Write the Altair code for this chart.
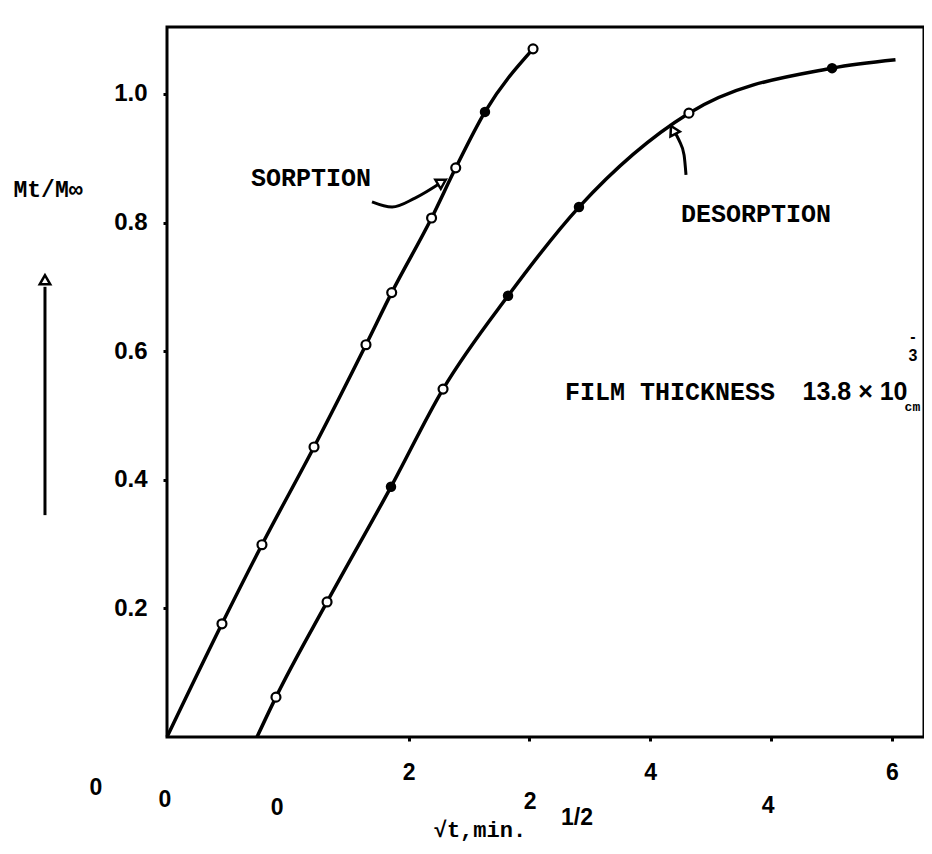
import altair as alt
import pandas as pd

# ---- data ----
sorp_x = [0.0, 0.455, 0.786, 1.217, 1.647, 1.86, 2.19, 2.39, 2.632, 3.03]
sorp_y = [0.0, 0.176, 0.299, 0.451, 0.610, 0.691, 0.807, 0.885, 0.972, 1.070]
sorp_marker = ["none", "open", "open", "open", "open", "open", "open", "open", "filled", "open"]

desorp_x = [0.745, 0.902, 1.325, 1.854, 2.285, 2.823, 3.41, 4.32, 5.505, 6.03]
desorp_y = [0.0, 0.062, 0.210, 0.389, 0.541, 0.686, 0.824, 0.970, 1.040, 1.053]
desorp_marker = ["none", "open", "open", "filled", "open", "filled", "filled", "open", "filled", "none"]

x_ticks = [2, 3, 4, 5, 6]
y_ticks = [0.2, 0.4, 0.6, 0.8, 1.0]

# annotation texts (typewriter)
mono_text = ["SORPTION", "DESORPTION", "FILM THICKNESS", "Mt/M\u221e", "\u221at,min.", "cm"]
mono_x = [1.192, 4.876, 4.164, -0.985, 2.59, 6.17]
mono_y = [0.869, 0.813, 0.537, 0.851, -0.145, 0.513]
mono_size = [25, 25, 25, 23, 22, 13]

# annotation texts (sans numerals)
sans_text = ["13.8 \u00d7 10", "-", "3", "0", "0", "0", "2", "4", "1/2"]
sans_x = [5.695, 6.175, 6.175, -0.588, -0.017, 0.911, 3.005, 4.975, 3.394]
sans_y = [0.537, 0.622, 0.593, -0.079, -0.098, -0.110, -0.101, -0.107, -0.126]
sans_size = [25, 16, 16, 23, 23, 23, 23, 23, 23]

# hand-drawn pointer arrows
arrow_id = ["s", "s", "s", "s", "d", "d", "d", "d", "v", "v"]
arrow_x = [1.697, 1.863, 2.053, 2.276, 4.296, 4.28, 4.238, 4.189, -1.01, -1.01]
arrow_y = [0.832, 0.824, 0.838, 0.863, 0.874, 0.905, 0.928, 0.944, 0.345, 0.70]
head_x = [2.276, 4.189, -1.01]
head_y = [0.863, 0.944, 0.711]
head_angle = [59, 333, 0]

# ---- tables ----
curves = pd.DataFrame({
    "x": sorp_x + desorp_x,
    "y": sorp_y + desorp_y,
    "marker": sorp_marker + desorp_marker,
    "series": ["Sorption"] * len(sorp_x) + ["Desorption"] * len(desorp_x),
})
mono_df = pd.DataFrame({"x": mono_x, "y": mono_y, "t": mono_text, "s": mono_size})
sans_df = pd.DataFrame({"x": sans_x, "y": sans_y, "t": sans_text, "s": sans_size})
arrows = pd.DataFrame({"x": arrow_x, "y": arrow_y, "id": arrow_id, "i": list(range(len(arrow_x)))})
heads = pd.DataFrame({"x": head_x, "y": head_y, "a": head_angle})

XS = alt.Scale(domain=[0, 6.266], nice=False, zero=False)
YS = alt.Scale(domain=[0, 1.104], nice=False, zero=False)

X = alt.X("x:Q", scale=XS, axis=alt.Axis(
    values=x_ticks, title=None, grid=False, domain=False, format="d",
    labelExpr="datum.value % 2 == 0 ? datum.label : ''",
    tickSize=4, tickWidth=3, tickColor="black",
    labelFont="Liberation Sans", labelFontWeight="bold", labelFontSize=23,
    labelColor="black", labelPadding=20, labelFlush=False))
Y = alt.Y("y:Q", scale=YS, axis=alt.Axis(
    values=y_ticks, title=None, grid=False, domain=False, format=".1f",
    tickSize=4, tickWidth=3, tickColor="black",
    labelFont="Liberation Sans", labelFontWeight="bold", labelFontSize=24,
    labelColor="black", labelPadding=16))
Xp = alt.X("x:Q", scale=XS)
Yp = alt.Y("y:Q", scale=YS)

lines = alt.Chart(curves).mark_line(
    color="black", strokeWidth=3.5, interpolate="monotone"
).encode(x=X, y=Y, detail="series:N")

open_pts = alt.Chart(curves).transform_filter(alt.datum.marker == "open").mark_point(
    shape="circle", filled=True, fill="white", stroke="black", strokeWidth=2.2, size=80, opacity=1
).encode(x=Xp, y=Yp)

filled_pts = alt.Chart(curves).transform_filter(alt.datum.marker == "filled").mark_circle(
    color="black", size=110, opacity=1
).encode(x=Xp, y=Yp)

arrow_lines = alt.Chart(arrows).mark_line(color="black", strokeWidth=3, interpolate="monotone").encode(
    x=Xp, y=Yp, detail="id:N", order="i:Q")

arrow_heads = alt.Chart(heads).mark_point(
    shape="triangle-up", filled=True, fill="white", stroke="black", strokeWidth=2.5, size=110, opacity=1
).encode(x=Xp, y=Yp, angle=alt.Angle("a:Q", scale=None))

mono_layer = alt.Chart(mono_df).mark_text(
    font="Liberation Mono", fontWeight="bold", color="black", align="center", baseline="middle"
).encode(x=Xp, y=Yp, text="t:N", size=alt.Size("s:Q", scale=None, legend=None))

sans_layer = alt.Chart(sans_df).mark_text(
    font="Liberation Sans", fontWeight="bold", color="black", align="center", baseline="middle"
).encode(x=Xp, y=Yp, text="t:N", size=alt.Size("s:Q", scale=None, legend=None))

chart = alt.layer(
    lines, arrow_lines, open_pts, filled_pts, arrow_heads, mono_layer, sans_layer
).properties(
    width=757, height=710,
    autosize=alt.AutoSizeParams(type="none"),
    padding={"left": 159, "top": 19, "right": 0, "bottom": 108},
    background="white",
).configure_view(stroke="black", strokeWidth=3)

chart.save("out.html", embed_options={"renderer": "svg", "actions": False})
